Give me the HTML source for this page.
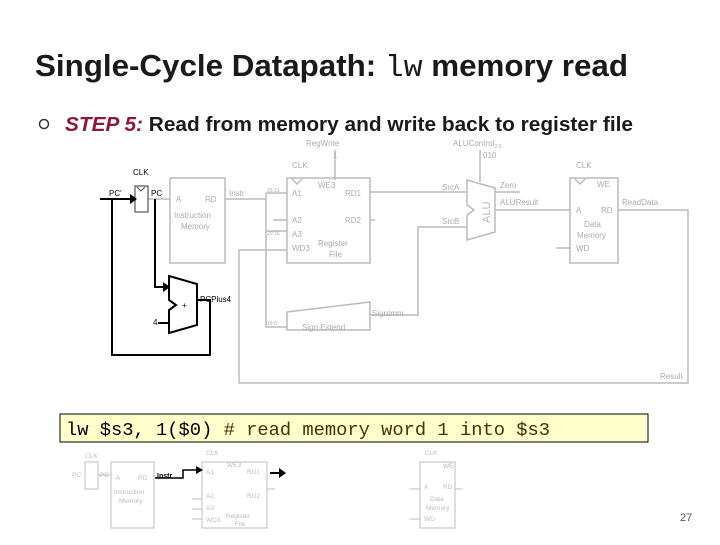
<!DOCTYPE html>
<html><head><meta charset="utf-8"><style>
body{margin:0;width:720px;height:540px;background:#fff;overflow:hidden;font-family:"Liberation Sans",sans-serif}
</style></head><body>
<svg width="720" height="540" xmlns="http://www.w3.org/2000/svg" font-family="Liberation Sans, sans-serif">
<text x="35" y="76" font-size="31" font-weight="bold" fill="#1a1a1a" textLength="593" lengthAdjust="spacingAndGlyphs">Single-Cycle Datapath: <tspan font-family="Liberation Mono, monospace" font-weight="normal">lw</tspan> memory read</text>
<circle cx="44" cy="124" r="4.5" fill="none" stroke="#333" stroke-width="1.5"/>
<text x="65" y="131" font-size="20" font-weight="bold" textLength="568" lengthAdjust="spacingAndGlyphs"><tspan fill="#8b1a3a" font-style="italic">STEP 5:</tspan><tspan fill="#1a1a1a"> Read from memory and write back to register file</tspan></text>

<g stroke="#bbb" fill="none" stroke-width="1.5">
<rect x="170" y="178" width="55" height="85"/>
<rect x="287" y="178" width="83" height="85"/>
<rect x="570" y="178" width="48" height="85"/>
<polygon points="287,312 370,302 370,330 287,330"/>
<polygon points="467,180 495,188 495,232 467,240 467,215 474,210 467,205"/>
<polyline points="148,199 170,199"/>
<polyline points="225,199 266,199"/>
<polyline points="266,193 266,327 287,327"/>
<polyline points="266,193 287,193"/>
<polyline points="266,231 287,231"/>
<polyline points="273,220 287,220"/>
<polyline points="239,383 239,250 287,250"/>
<polyline points="370,192 467,192"/>
<polyline points="370,220 375,220"/>
<polyline points="370,315 418,315 418,227 467,227"/>
<polyline points="495,210 570,210"/>
<polyline points="495,192 520,192"/>
<polyline points="480,182 480,150"/>
<polyline points="335,180 335,150"/>
<polyline points="556,248 570,248"/>
<polyline points="618,210 688,210 688,383 239,383"/>
<polyline points="292,179 297,184 302,179"/>
<polyline points="575,179 580,184 585,179"/>
</g>
<text x="0" y="0" font-size="11" fill="#bbb" transform="translate(490,223) rotate(-90)">ALU</text>
<g fill="#aaa" font-size="8">
<text x="306" y="146">RegWrite</text><text x="333" y="158">1</text>
<text x="292" y="168">CLK</text><text x="318" y="188">WE3</text>
<text x="292" y="196">A1</text><text x="345" y="196">RD1</text>
<text x="292" y="223">A2</text><text x="345" y="223">RD2</text>
<text x="292" y="237">A3</text><text x="292" y="251">WD3</text>
<text x="318" y="246">Register</text><text x="329" y="257">File</text>
<text x="176" y="202">A</text><text x="205" y="202">RD</text>
<text x="174" y="218">Instruction</text><text x="181" y="229">Memory</text>
<text x="229" y="196">Instr</text>
<text x="267" y="192" font-size="5">25:21</text><text x="267" y="235" font-size="5">20:16</text><text x="267" y="325" font-size="5">15:0</text>
<text x="302" y="330">Sign Extend</text><text x="372" y="316">SignImm</text>
<text x="453" y="146">ALUControl<tspan font-size="5" dy="2">2:0</tspan></text><text x="483" y="158">010</text>
<text x="442" y="190">SrcA</text><text x="442" y="224">SrcB</text>
<text x="500" y="188">Zero</text><text x="500" y="205">ALUResult</text>
<text x="576" y="168">CLK</text><text x="597" y="187">WE</text>
<text x="576" y="213">A</text><text x="601" y="213">RD</text>
<text x="584" y="227">Data</text><text x="577" y="238">Memory</text><text x="576" y="251">WD</text>
<text x="622" y="205">ReadData</text><text x="660" y="379">Result</text>
</g>

<g stroke="#000" fill="none" stroke-width="2">
<rect x="135" y="186" width="13" height="26" stroke-width="1.2" stroke="#555"/>
<polyline points="100,199 130,199"/>
<polyline points="155,199 155,287 165,287"/>
<polygon points="169,276 197,284 197,325 169,333 169,310 176,305 169,300"/>
<polyline points="197,300 210,300 210,355 112,355 112,199"/>
<polyline points="158,323 169,323"/>
</g>
<polygon points="130,194 137,199 130,204" fill="#000"/>
<polygon points="163,282 170,287 163,292" fill="#000"/>
<g font-size="8" fill="#000">
<text x="133" y="175">CLK</text><text x="109" y="196">PC'</text><text x="151" y="196">PC</text>
<text x="200" y="302">PCPlus4</text><text x="153" y="325">4</text><text x="182" y="308">+</text>
</g>
<polyline points="137,187 141,191 145,187" stroke="#555" fill="none"/>

<rect x="60" y="414" width="588" height="28" fill="#ffffcc" stroke="#000" stroke-width="1"/>
<text x="66" y="435" font-family="Liberation Mono, monospace" font-size="18" fill="#000" textLength="484" lengthAdjust="spacingAndGlyphs">lw $s3, 1($0)  <tspan fill="#4a3000"># read memory word 1 into $s3</tspan></text>

<g stroke="#ccc" fill="none" stroke-width="1.3">
<rect x="85" y="462" width="13" height="27"/>
<rect x="111" y="462" width="43" height="66"/>
<rect x="202" y="462" width="65" height="66"/>
<rect x="420" y="462" width="35" height="66"/>
<polyline points="98,475 111,475"/>
<polyline points="192,499 202,499"/><polyline points="192,509 202,509"/><polyline points="192,519 202,519"/>
<polyline points="267,489 275,489"/>
<polyline points="410,489 420,489"/><polyline points="410,519 420,519"/><polyline points="455,489 462,489"/>
</g>
<polyline points="155,478 183,478 183,470 198,470" stroke="#000" stroke-width="1.5" fill="none"/>
<polygon points="196,466 203,470 196,474" fill="#000"/>
<polyline points="270,473 280,473" stroke="#000" stroke-width="2"/>
<polygon points="279,468 286,473 279,478" fill="#000"/>
<g fill="#bbb" font-size="6.5">
<text x="85" y="458">CLK</text><text x="72" y="477">PC'</text><text x="100" y="477">PC</text>
<text x="116" y="480">A</text><text x="138" y="480">RD</text><text x="114" y="494">Instruction</text><text x="119" y="503">Memory</text>
<text x="206" y="455">CLK</text><text x="206" y="474">A1</text><text x="227" y="467">WE3</text><text x="247" y="474">RD1</text>
<text x="206" y="498">A2</text><text x="247" y="498">RD2</text><text x="206" y="510">A3</text><text x="206" y="522">WD3</text>
<text x="226" y="518">Register</text><text x="235" y="526">File</text>
<text x="425" y="455">CLK</text><text x="443" y="468">WE</text><text x="424" y="489">A</text><text x="443" y="489">RD</text>
<text x="430" y="501">Data</text><text x="426" y="510">Memory</text><text x="424" y="521">WD</text>
</g>
<text x="157" y="478" font-size="7" font-weight="bold" fill="#000">Instr</text>
<text x="680" y="521" font-size="11" fill="#555">27</text>
</svg>
</body></html>
